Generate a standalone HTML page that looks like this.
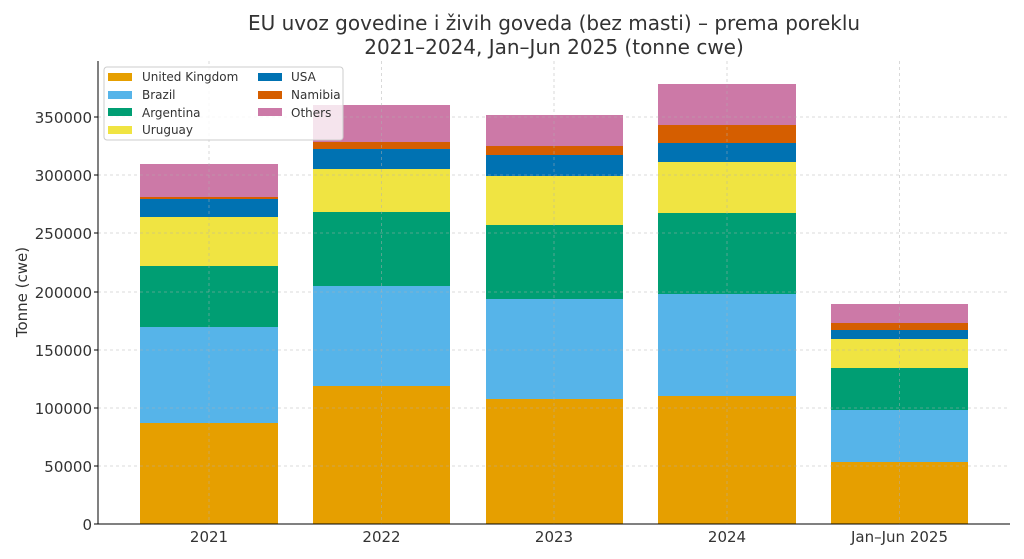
<!DOCTYPE html>
<html><head><meta charset="utf-8"><style>body{margin:0;background:#fff}svg{display:block;font-family:"DejaVu Sans","Liberation Sans",sans-serif}</style></head><body>
<svg width="1024" height="559" xmlns="http://www.w3.org/2000/svg">
<rect width="1024" height="559" fill="#fff"/>
<text x="554" y="30" font-size="20" text-anchor="middle" fill="#333">EU uvoz govedine i živih goveda (bez masti) – prema poreklu</text>
<text x="554" y="54" font-size="20" text-anchor="middle" fill="#333">2021–2024, Jan–Jun 2025 (tonne cwe)</text>
<g id="bars">
<rect x="140" y="423" width="138" height="101" fill="#E69F00"/>
<rect x="140" y="327" width="138" height="96" fill="#56B4E9"/>
<rect x="140" y="266" width="138" height="61" fill="#009E73"/>
<rect x="140" y="217" width="138" height="49" fill="#F0E442"/>
<rect x="140" y="199" width="138" height="18" fill="#0072B2"/>
<rect x="140" y="197" width="138" height="2" fill="#D55E00"/>
<rect x="140" y="164" width="138" height="33" fill="#CC79A7"/>
<rect x="313" y="386" width="137" height="138" fill="#E69F00"/>
<rect x="313" y="286" width="137" height="100" fill="#56B4E9"/>
<rect x="313" y="212" width="137" height="74" fill="#009E73"/>
<rect x="313" y="169" width="137" height="43" fill="#F0E442"/>
<rect x="313" y="149" width="137" height="20" fill="#0072B2"/>
<rect x="313" y="142" width="137" height="7" fill="#D55E00"/>
<rect x="313" y="105" width="137" height="37" fill="#CC79A7"/>
<rect x="486" y="399" width="137" height="125" fill="#E69F00"/>
<rect x="486" y="299" width="137" height="100" fill="#56B4E9"/>
<rect x="486" y="225" width="137" height="74" fill="#009E73"/>
<rect x="486" y="176" width="137" height="49" fill="#F0E442"/>
<rect x="486" y="155" width="137" height="21" fill="#0072B2"/>
<rect x="486" y="146" width="137" height="9" fill="#D55E00"/>
<rect x="486" y="115" width="137" height="31" fill="#CC79A7"/>
<rect x="658" y="396" width="138" height="128" fill="#E69F00"/>
<rect x="658" y="294" width="138" height="102" fill="#56B4E9"/>
<rect x="658" y="213" width="138" height="81" fill="#009E73"/>
<rect x="658" y="162" width="138" height="51" fill="#F0E442"/>
<rect x="658" y="143" width="138" height="19" fill="#0072B2"/>
<rect x="658" y="125" width="138" height="18" fill="#D55E00"/>
<rect x="658" y="84" width="138" height="41" fill="#CC79A7"/>
<rect x="831" y="462" width="137" height="62" fill="#E69F00"/>
<rect x="831" y="410" width="137" height="52" fill="#56B4E9"/>
<rect x="831" y="368" width="137" height="42" fill="#009E73"/>
<rect x="831" y="339" width="137" height="29" fill="#F0E442"/>
<rect x="831" y="330" width="137" height="9" fill="#0072B2"/>
<rect x="831" y="323" width="137" height="7" fill="#D55E00"/>
<rect x="831" y="304" width="137" height="19" fill="#CC79A7"/>
</g>
<g stroke="#b0b0b0" stroke-opacity="0.6" stroke-dasharray="3,3" stroke-width="0.8">
<line x1="98" x2="1010" y1="466" y2="466"/><line x1="98" x2="1010" y1="408" y2="408"/>
<line x1="98" x2="1010" y1="350" y2="350"/><line x1="98" x2="1010" y1="292" y2="292"/>
<line x1="98" x2="1010" y1="233" y2="233"/><line x1="98" x2="1010" y1="175" y2="175"/>
<line x1="98" x2="1010" y1="117" y2="117"/>
<line x1="209" x2="209" y1="61" y2="524"/><line x1="381.5" x2="381.5" y1="61" y2="524"/>
<line x1="554" x2="554" y1="61" y2="524"/><line x1="727" x2="727" y1="61" y2="524"/>
<line x1="899.5" x2="899.5" y1="61" y2="524"/>
</g>
<line x1="98" x2="98" y1="61" y2="524" stroke="#000" stroke-width="1"/>
<line x1="98" x2="1010" y1="524" y2="524" stroke="#000" stroke-width="1"/>
<g font-size="15" fill="#333" text-anchor="end">
<text x="92" y="530">0</text><text x="92" y="472">50000</text><text x="92" y="414">100000</text>
<text x="92" y="356">150000</text><text x="92" y="298">200000</text><text x="92" y="239">250000</text>
<text x="92" y="181">300000</text><text x="92" y="123">350000</text>
</g>
<g stroke="#000"><line x1="94" x2="98" y1="524" y2="524"/><line x1="94" x2="98" y1="466" y2="466"/><line x1="94" x2="98" y1="408" y2="408"/><line x1="94" x2="98" y1="350" y2="350"/><line x1="94" x2="98" y1="292" y2="292"/><line x1="94" x2="98" y1="233" y2="233"/><line x1="94" x2="98" y1="175" y2="175"/><line x1="94" x2="98" y1="117" y2="117"/></g>
<g font-size="15" fill="#333" text-anchor="middle">
<text x="209" y="542">2021</text><text x="381.5" y="542">2022</text><text x="554" y="542">2023</text>
<text x="727" y="542">2024</text><text x="899.5" y="542">Jan–Jun 2025</text>
</g>
<text transform="translate(27,292) rotate(-90)" font-size="15" fill="#333" text-anchor="middle">Tonne (cwe)</text>
<rect x="104" y="67" width="239" height="73" rx="3" fill="#fff" fill-opacity="0.8" stroke="#ccc"/>
<g font-size="12" fill="#333">
<rect x="108" y="73" width="24" height="8" fill="#E69F00"/><text x="142" y="81">United Kingdom</text>
<rect x="108" y="91" width="24" height="8" fill="#56B4E9"/><text x="142" y="99">Brazil</text>
<rect x="108" y="108" width="24" height="8" fill="#009E73"/><text x="142" y="117">Argentina</text>
<rect x="108" y="126" width="24" height="8" fill="#F0E442"/><text x="142" y="134">Uruguay</text>
<rect x="258" y="73" width="24" height="8" fill="#0072B2"/><text x="291" y="81">USA</text>
<rect x="258" y="91" width="24" height="8" fill="#D55E00"/><text x="291" y="99">Namibia</text>
<rect x="258" y="108" width="24" height="8" fill="#CC79A7"/><text x="291" y="117">Others</text>
</g>
</svg>
</body></html>
